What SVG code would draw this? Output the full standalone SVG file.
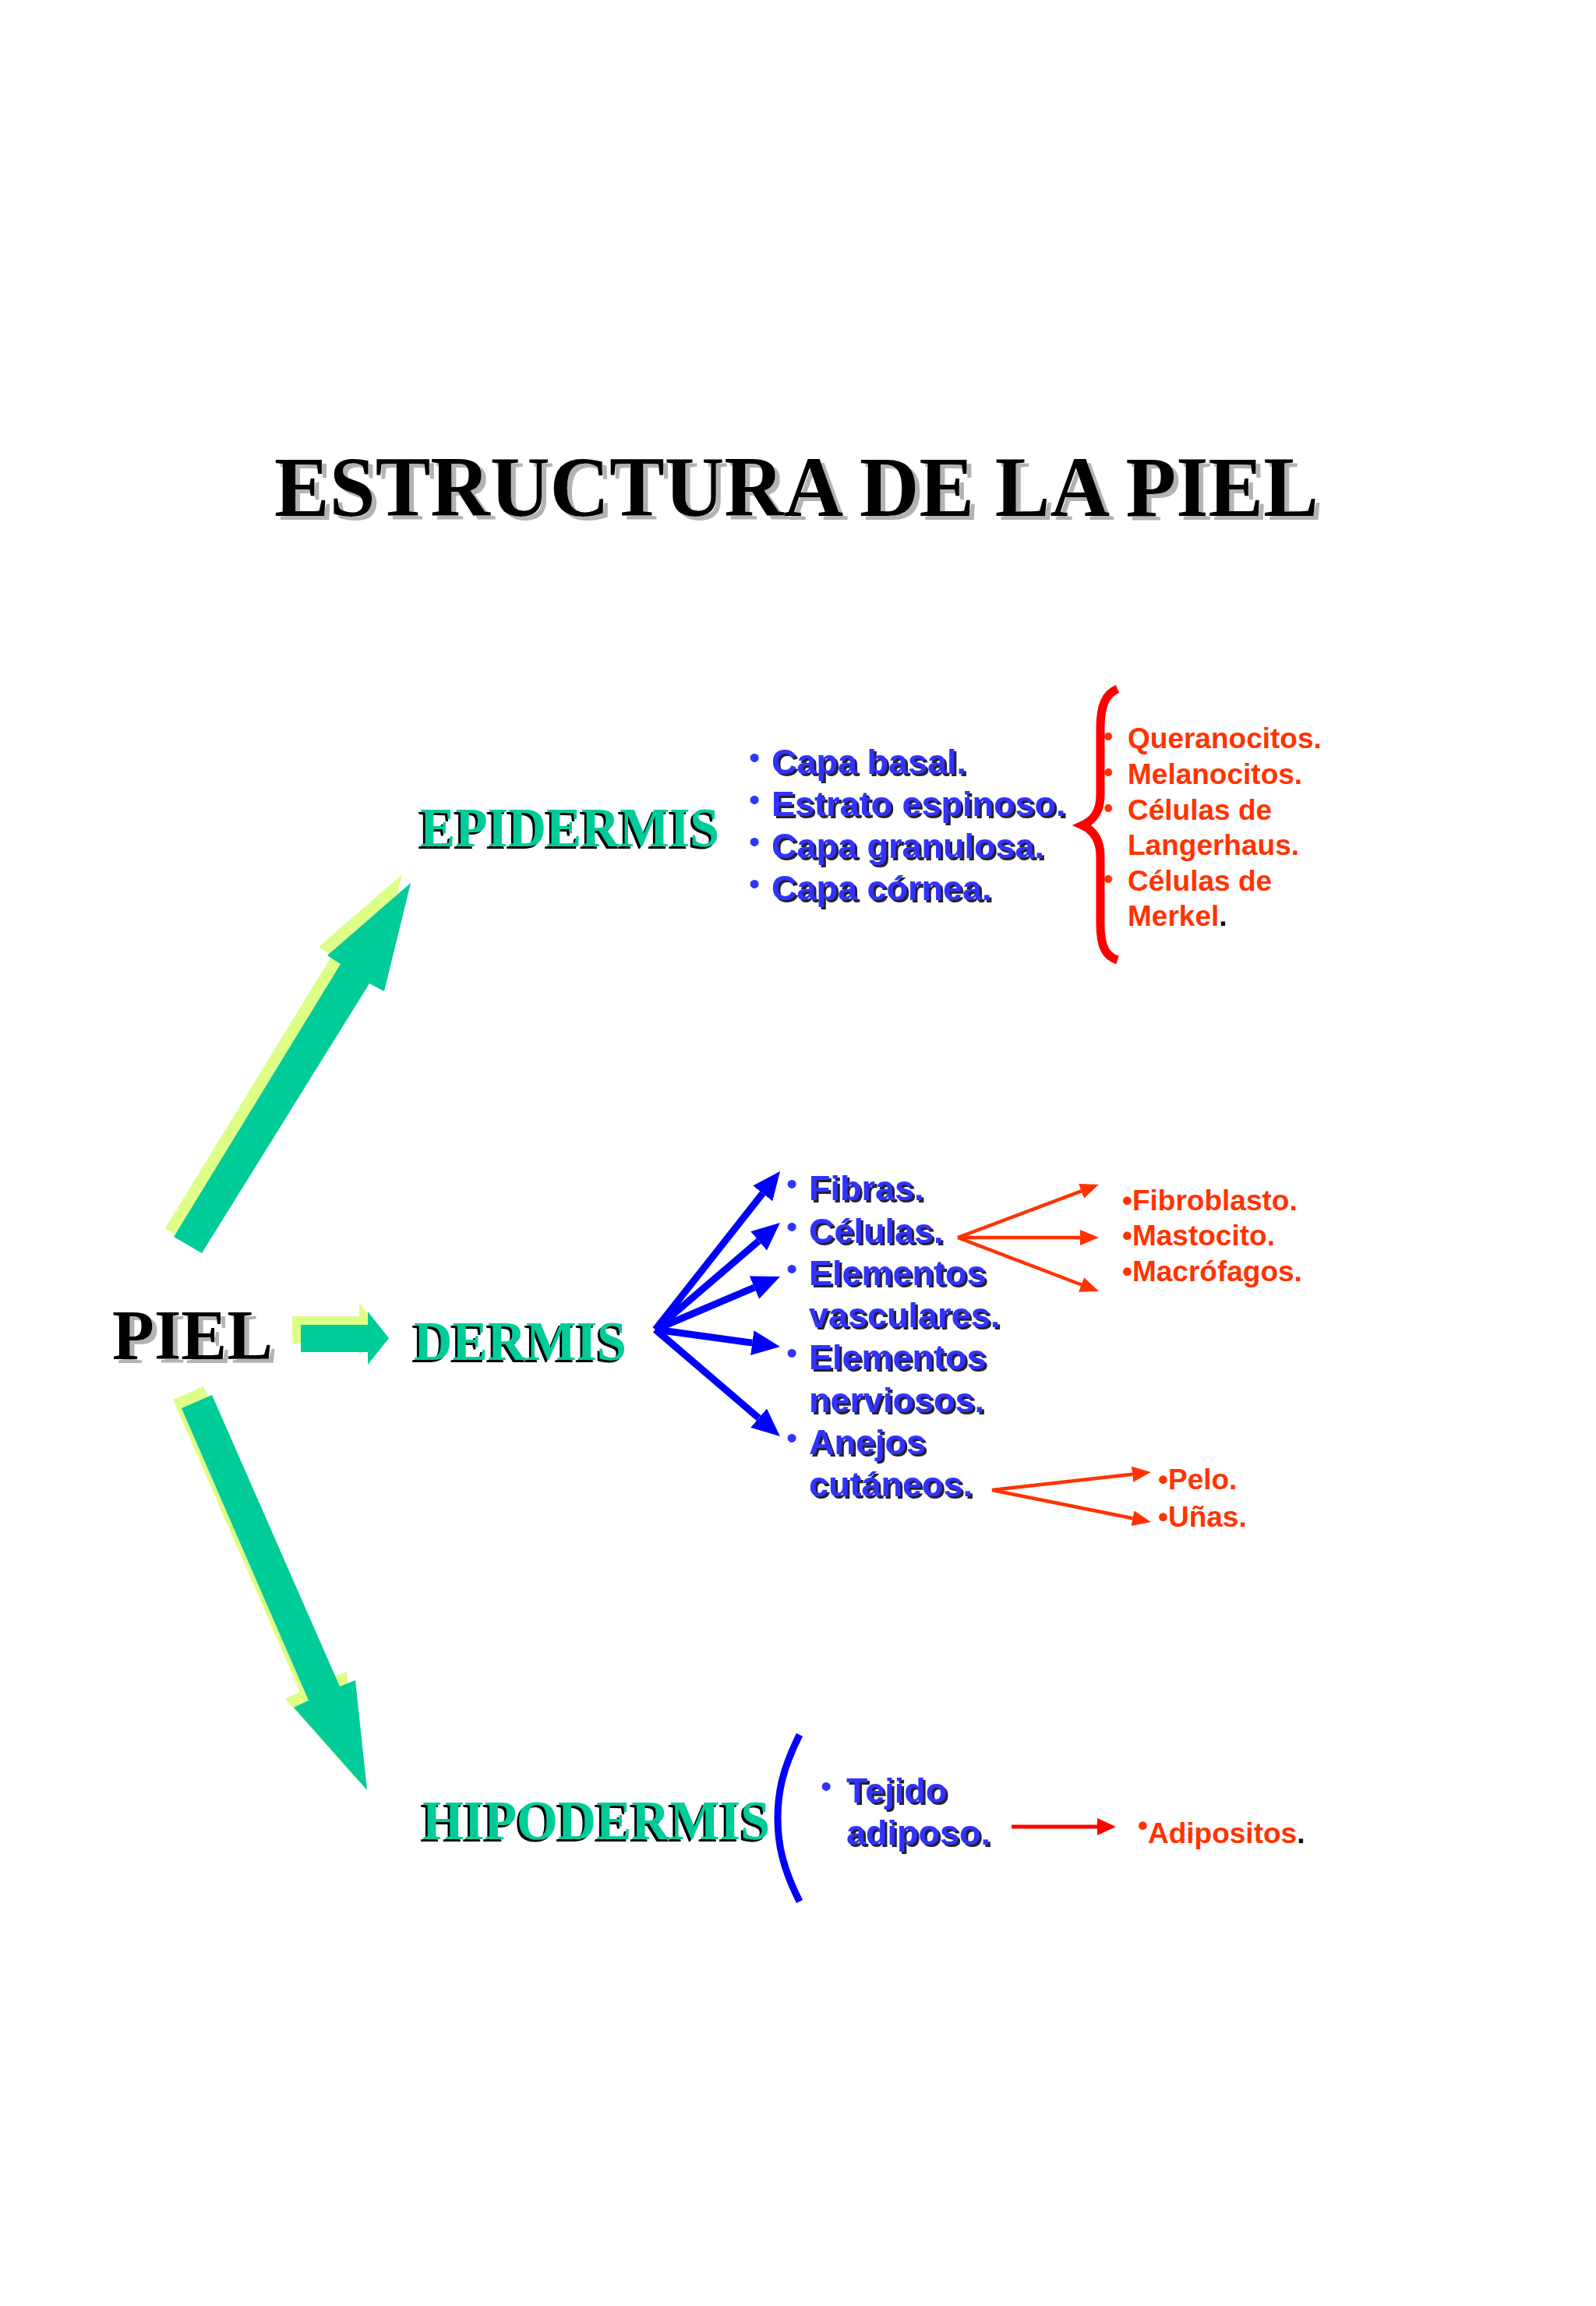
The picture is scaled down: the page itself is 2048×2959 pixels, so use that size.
<svg xmlns="http://www.w3.org/2000/svg" width="2048" height="2959" viewBox="0 0 2048 2959">
<defs>
<style>
.serif{font-family:"Liberation Serif","Times New Roman",serif;font-weight:bold;}
.title{font-size:110px;fill:#000000;}
.piel{font-size:90px;fill:#000000;}
.layer{font-size:72px;fill:#00CC99;}
.bl{font-family:"Liberation Sans",Arial,sans-serif;font-weight:bold;font-size:45px;fill:#3333FF;}
.blb{font-family:"Liberation Sans",Arial,sans-serif;font-size:40px;fill:#3333FF;}
.rd{font-family:"Liberation Sans",Arial,sans-serif;font-weight:bold;font-size:37px;fill:#FF3300;}
.rdb{font-family:"Liberation Sans",Arial,sans-serif;font-size:36px;fill:#FF3300;}
.teal{fill:#00CC99;}
.lime{fill:#DDFF88;}
.blueArrow{stroke:#0000FF;stroke-width:9;fill:none;marker-end:url(#mBlue);}
.redArrow{stroke:#FF3300;stroke-width:4.5;fill:none;marker-end:url(#mRed);}
.redArrow2{stroke:#FF0000;stroke-width:5;fill:none;marker-end:url(#mRed2);}
</style>
<filter id="fGrey" x="-5%" y="-10%" width="115%" height="130%">
<feFlood flood-color="#b3b3b3"/>
<feComposite in2="SourceAlpha" operator="in"/>
<feOffset dx="6" dy="5" result="s"/>
<feMerge><feMergeNode in="s"/><feMergeNode in="SourceGraphic"/></feMerge>
</filter>
<filter id="fBlack" x="-5%" y="-10%" width="115%" height="130%">
<feFlood flood-color="#000000"/>
<feComposite in2="SourceAlpha" operator="in"/>
<feOffset dx="-3" dy="3" result="s"/>
<feMerge><feMergeNode in="s"/><feMergeNode in="SourceGraphic"/></feMerge>
</filter>
<filter id="fBlue" x="-5%" y="-10%" width="115%" height="130%">
<feFlood flood-color="#222233"/>
<feComposite in2="SourceAlpha" operator="in"/>
<feOffset dx="3" dy="3" result="s"/>
<feMerge><feMergeNode in="s"/><feMergeNode in="SourceGraphic"/></feMerge>
</filter>
<marker id="mBlue" markerWidth="40" markerHeight="34" refX="0" refY="16" orient="auto" markerUnits="userSpaceOnUse">
<path d="M0,0 L36,16 L0,32 z" fill="#0000FF"/>
</marker>
<marker id="mRed" markerWidth="28" markerHeight="22" refX="0" refY="10" orient="auto" markerUnits="userSpaceOnUse">
<path d="M0,0 L24,10 L0,20 z" fill="#FF3300"/>
</marker>
<marker id="mRed2" markerWidth="28" markerHeight="24" refX="0" refY="11" orient="auto" markerUnits="userSpaceOnUse">
<path d="M0,0 L24,11 L0,22 z" fill="#FF0000"/>
</marker>
</defs>
<rect x="0" y="0" width="2048" height="2959" fill="#FFFFFF"/>

<g id="title">
<text class="serif title" x="352" y="662" textLength="1340" lengthAdjust="spacingAndGlyphs" filter="url(#fGrey)">ESTRUCTURA DE LA PIEL</text>
</g>

<g id="piel">
<text class="serif piel" x="144" y="1744" textLength="206" lengthAdjust="spacingAndGlyphs" filter="url(#fGrey)">PIEL</text>
</g>

<g id="epidermis">
<text class="serif layer" x="539" y="1086" textLength="384" lengthAdjust="spacingAndGlyphs" filter="url(#fBlack)">EPIDERMIS</text>
</g>

<g id="dermis">
<text class="serif layer" x="531" y="1745" textLength="273" lengthAdjust="spacingAndGlyphs" filter="url(#fBlack)">DERMIS</text>
</g>

<g id="hipodermis">
<text class="serif layer" x="542" y="2360" textLength="446" lengthAdjust="spacingAndGlyphs" filter="url(#fBlack)">HIPODERMIS</text>
</g>

<g id="epidermis-capas">
<text class="blb" x="961" y="986">•</text>
<text class="blb" x="961" y="1040">•</text>
<text class="blb" x="961" y="1094">•</text>
<text class="blb" x="961" y="1148">•</text>
<text class="bl" x="990" y="993" filter="url(#fBlue)">Capa basal.</text>
<text class="bl" x="990" y="1047" filter="url(#fBlue)">Estrato espinoso.</text>
<text class="bl" x="990" y="1101" filter="url(#fBlue)">Capa granulosa.</text>
<text class="bl" x="990" y="1155" filter="url(#fBlue)">Capa córnea.</text>
</g>

<g id="epidermis-celulas">
<text class="rdb" x="1416" y="957">•</text>
<text class="rdb" x="1416" y="1003">•</text>
<text class="rdb" x="1416" y="1049">•</text>
<text class="rdb" x="1416" y="1140">•</text>
<text class="rd" x="1447" y="960">Queranocitos.</text>
<text class="rd" x="1447" y="1006">Melanocitos.</text>
<text class="rd" x="1447" y="1052">Células de</text>
<text class="rd" x="1447" y="1097">Langerhaus.</text>
<text class="rd" x="1447" y="1143">Células de</text>
<text class="rd" x="1447" y="1188">Merkel<tspan fill="#000000">.</tspan></text>
</g>

<g id="dermis-componentes">
<text class="blb" x="1009" y="1533">•</text>
<text class="blb" x="1009" y="1588">•</text>
<text class="blb" x="1009" y="1642">•</text>
<text class="blb" x="1009" y="1750">•</text>
<text class="blb" x="1009" y="1859">•</text>
<text class="bl" x="1038" y="1540" filter="url(#fBlue)">Fibras.</text>
<text class="bl" x="1038" y="1595" filter="url(#fBlue)">Células.</text>
<text class="bl" x="1038" y="1649" filter="url(#fBlue)">Elementos</text>
<text class="bl" x="1038" y="1703" filter="url(#fBlue)">vasculares.</text>
<text class="bl" x="1038" y="1757" filter="url(#fBlue)">Elementos</text>
<text class="bl" x="1038" y="1812" filter="url(#fBlue)">nerviosos.</text>
<text class="bl" x="1038" y="1866" filter="url(#fBlue)">Anejos</text>
<text class="bl" x="1038" y="1920" filter="url(#fBlue)">cutáneos.</text>
</g>

<g id="dermis-celulas">
<text class="rd" x="1440" y="1553">•Fibroblasto.</text>
<text class="rd" x="1440" y="1598">•Mastocito.</text>
<text class="rd" x="1440" y="1644">•Macrófagos.</text>
</g>

<g id="dermis-anejos">
<text class="rd" x="1486" y="1911">•Pelo.</text>
<text class="rd" x="1486" y="1959">•Uñas.</text>
</g>

<g id="hipodermis-tejido">
<text class="blb" x="1053" y="2306">•</text>
<text class="bl" x="1086" y="2313" filter="url(#fBlue)">Tejido</text>
<text class="bl" x="1086" y="2367" filter="url(#fBlue)">adiposo.</text>
</g>

<g id="hipodermis-celulas">
<text class="rd" x="1460" y="2365"><tspan dy="-10">•</tspan><tspan dy="10">Adipositos</tspan><tspan fill="#000000">.</tspan></text>
</g>

<g id="brackets">
<path d="M1434,884 C1419,890 1412,905 1412,935 L1412,1020 C1412,1045 1400,1054 1389,1059 C1400,1064 1412,1074 1412,1099 L1412,1185 C1412,1215 1419,1227 1434,1232" fill="none" stroke="#FF0000" stroke-width="11"/>
<path d="M1026,2226 C1004,2270 998,2300 998,2333 C998,2366 1004,2396 1026,2440" fill="none" stroke="#0000FF" stroke-width="9"/>
</g>

<g id="connectors">
<g id="green-arrows">
<polygon class="lime" points="212,1576 248,1597 463,1251 482,1261 516,1122 409,1215 426,1226"/>
<polygon class="teal" points="223,1587 259,1608 474,1262 493,1272 527,1133 420,1226 437,1237"/>
<polygon class="lime" points="375,1689 461,1689 461,1672 488,1706 461,1740 461,1724 375,1724"/>
<polygon class="teal" points="386,1700 472,1700 472,1683 499,1717 472,1751 472,1735 386,1735"/>
<polygon class="lime" points="222,1796 261,1779 425,2153 445,2145 460,2286 366,2180 385,2171"/>
<polygon class="teal" points="233,1807 272,1790 436,2164 456,2156 471,2297 377,2191 396,2182"/>
</g>
<g id="blue-arrows">
<path class="blueArrow" d="M841,1706 L978.7,1531.3"/>
<path class="blueArrow" d="M841,1706 L973.6,1592.4"/>
<path class="blueArrow" d="M841,1706 L967.9,1652.1"/>
<path class="blueArrow" d="M841,1706 L965.3,1723.1"/>
<path class="blueArrow" d="M841,1706 L973.6,1819.6"/>
</g>
<g id="red-arrows">
<path class="redArrow" d="M1229,1588 L1387.5,1528.4"/>
<path class="redArrow" d="M1229,1588 L1386,1588"/>
<path class="redArrow" d="M1229,1588 L1387.6,1648.5"/>
<path class="redArrow" d="M1273,1912 L1453.1,1891.7"/>
<path class="redArrow" d="M1273,1912 L1453.5,1948.3"/>
<path class="redArrow2" d="M1298,2344 L1408,2344"/>
</g>
</g>
</svg>
